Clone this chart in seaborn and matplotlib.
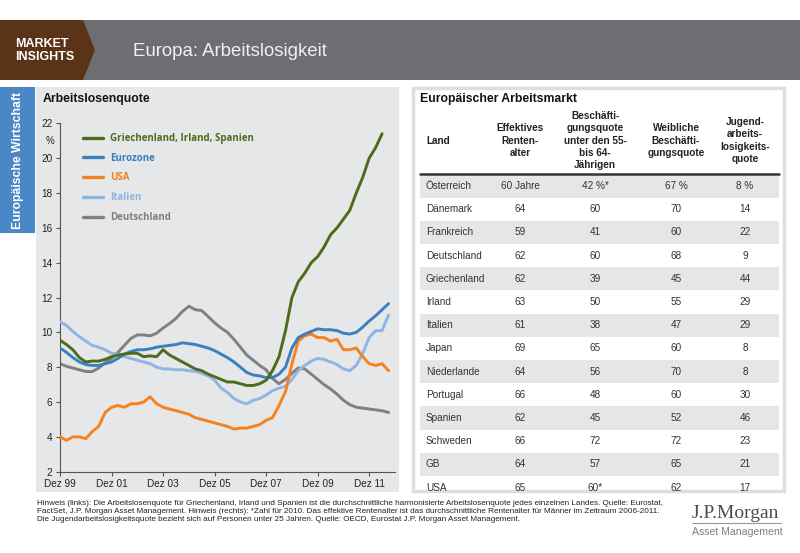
import matplotlib
matplotlib.use("Agg")
import matplotlib.pyplot as plt
from matplotlib.patches import Rectangle, Polygon
import pandas as pd
import seaborn as sns

# Arbeitslosenquote in %, Quartalswerte ab Dez 1999
quarters = pd.date_range("1999-12-01", periods=52, freq="3MS")

gr_ir_es = [9.55, 9.3, 9.0, 8.55, 8.3, 8.35, 8.35, 8.45, 8.6, 8.7, 8.75, 8.8, 8.8,
            8.6, 8.65, 8.6, 9.0, 8.7, 8.5, 8.3, 8.1, 7.9, 7.8, 7.6, 7.45, 7.3,
            7.15, 7.15, 7.05, 6.95, 6.95, 7.05, 7.25, 7.8, 8.6, 10.1, 12.0, 12.9,
            13.4, 14.0, 14.35, 14.9, 15.6, 16.0, 16.5, 17.0, 18.0, 18.9, 20.0,
            20.6, 21.4]
eurozone = [9.1, 8.85, 8.55, 8.3, 8.15, 8.1, 8.1, 8.2, 8.3, 8.5, 8.75, 8.9, 9.0,
            9.0, 9.05, 9.15, 9.2, 9.25, 9.3, 9.4, 9.35, 9.3, 9.2, 9.1, 8.95, 8.75,
            8.55, 8.3, 8.0, 7.7, 7.55, 7.5, 7.4, 7.4, 7.6, 8.0, 9.1, 9.7, 9.9,
            10.05, 10.2, 10.15, 10.15, 10.1, 9.95, 9.9, 10.0, 10.3, 10.65, 10.95,
            11.3, 11.65]
usa = [4.0, 3.8, 4.0, 4.0, 3.9, 4.3, 4.6, 5.4, 5.7, 5.8, 5.7, 5.9, 5.9, 6.0, 6.3,
       5.9, 5.7, 5.6, 5.5, 5.4, 5.3, 5.1, 5.0, 4.9, 4.8, 4.7, 4.6, 4.45, 4.5, 4.5,
       4.6, 4.7, 4.95, 5.1, 5.8, 6.6, 8.2, 9.5, 9.8, 9.9, 9.7, 9.7, 9.5, 9.6, 9.0,
       9.0, 9.1, 8.6, 8.2, 8.1, 8.2, 7.8]
italien = [10.6, 10.4, 10.05, 9.75, 9.5, 9.25, 9.15, 9.0, 8.8, 8.75, 8.6, 8.5, 8.4,
           8.3, 8.2, 8.0, 7.9, 7.9, 7.85, 7.85, 7.8, 7.75, 7.65, 7.5, 7.25, 6.8,
           6.55, 6.2, 6.0, 5.9, 6.1, 6.2, 6.4, 6.65, 6.8, 6.9, 7.3, 7.8, 8.1, 8.35,
           8.5, 8.45, 8.3, 8.15, 7.9, 7.8, 8.1, 8.8, 9.7, 10.1, 10.1, 11.0]
deutschland = [8.2, 8.05, 7.95, 7.85, 7.75, 7.75, 7.95, 8.25, 8.5, 8.85, 9.25, 9.65,
               9.85, 9.85, 9.8, 9.95, 10.25, 10.5, 10.8, 11.2, 11.5, 11.3, 11.25,
               10.9, 10.55, 10.25, 10.0, 9.6, 9.15, 8.7, 8.4, 8.1, 7.85, 7.35, 7.05,
               7.3, 7.65, 7.95, 7.9, 7.6, 7.3, 7.0, 6.75, 6.45, 6.1, 5.85, 5.7, 5.65,
               5.6, 5.55, 5.5, 5.4]

series_names = ["Griechenland, Irland, Spanien", "Eurozone", "USA", "Italien", "Deutschland"]
series_colors = ["#4e6b1b", "#3a7fc1", "#f5821f", "#8fb5e3", "#808080"]

x_tick_years = [1999, 2001, 2003, 2005, 2007, 2009, 2011]
x_tick_labels = ["Dez 99", "Dez 01", "Dez 03", "Dez 05", "Dez 07", "Dez 09", "Dez 11"]
y_ticks = [2, 4, 6, 8, 10, 12, 14, 16, 18, 20, 22]

# Tabelle rechts
table_header = ["Land", "Effektives\nRenten-\nalter", "Beschäfti-\ngungsquote\nunter den 55-\nbis 64-\nJährigen",
                "Weibliche\nBeschäfti-\ngungsquote", "Jugend-\narbeits-\nlosigkeits-\nquote"]
laender = ["Österreich", "Dänemark", "Frankreich", "Deutschland", "Griechenland", "Irland",
           "Italien", "Japan", "Niederlande", "Portugal", "Spanien", "Schweden", "GB", "USA"]
rentenalter = ["60 Jahre", "64", "59", "62", "62", "63", "61", "69", "64", "66", "62", "66", "64", "65"]
quote_55_64 = ["42 %*", "60", "41", "60", "39", "50", "38", "65", "56", "48", "45", "72", "57", "60*"]
weiblich = ["67 %", "70", "60", "68", "45", "55", "47", "60", "70", "60", "52", "72", "65", "62"]
jugend = ["8 %", "14", "22", "9", "44", "29", "29", "8", "8", "30", "46", "23", "21", "17"]

footer = ("Hinweis (links): Die Arbeitslosenquote für Griechenland, Irland und Spanien ist die durchschnittliche "
          "harmonisierte Arbeitslosenquote jedes einzelnen Landes. Quelle: Eurostat,\n"
          "FactSet, J.P. Morgan Asset Management. Hinweis (rechts): *Zahl für 2010. Das effektive Rentenalter ist "
          "das durchschnittliche Rentenalter für Männer im Zeitraum 2006-2011.\n"
          "Die Jugendarbeitslosigkeitsquote bezieht sich auf Personen unter 25 Jahren. Quelle: OECD, Eurostat "
          "J.P. Morgan Asset Management.")

sns.set_style("ticks")
plt.rcParams["font.family"] = ["Liberation Sans", "DejaVu Sans"]

W, H = 800, 553
fig = plt.figure(figsize=(8, 5.53), dpi=100)

# background layer in pixel coordinates
bg = fig.add_axes([0, 0, 1, 1])
bg.set_xlim(0, W)
bg.set_ylim(H, 0)
bg.axis("off")

bg.add_patch(Rectangle((0, 20), W, 60, color="#6d6e71", lw=0))
bg.add_patch(Polygon([(0, 20), (83, 20), (95, 50), (83, 80), (0, 80)], closed=True, color="#5b3318", lw=0))
bg.text(15, 44, "MARKET", color="white", fontsize=9, fontweight="bold", va="center")
bg.text(15, 57.5, "INSIGHTS", color="white", fontsize=9, fontweight="bold", va="center")
bg.text(133, 52, "Europa: Arbeitslosigkeit", color="#f0f0f0", fontsize=13.4, va="center")

bg.add_patch(Rectangle((0, 87), 35, 146, color="#4a87c7", lw=0))
bg.text(18, 160, "Europäische Wirtschaft", color="white", fontsize=8.8, fontweight="bold",
        rotation=90, ha="center", va="center")
bg.add_patch(Rectangle((36, 87), 363, 405, color="#e6e7e8", lw=0))
bg.text(43, 99, "Arbeitslosenquote", fontsize=8.8, fontweight="bold", va="center", color="#111")
bg.text(50, 141, "%", fontsize=7, ha="center", va="center", color="#222")

# table panel
bg.add_patch(Rectangle((413, 88), 371, 403, facecolor="white", edgecolor="#dedede", lw=2.5))
bg.text(420, 99, "Europäischer Arbeitsmarkt", fontsize=8.8, fontweight="bold", va="center", color="#111")
col_x = [426, 520, 595, 676, 745]
for i, head in enumerate(table_header):
    bg.text(col_x[i], 140.5, head, fontsize=7.2, fontweight="bold", color="#222",
            ha="left" if i == 0 else "center", va="center", linespacing=1.3)
bg.plot([420, 779], [174, 174], color="#333333", lw=1.8)

row_h = 23.2
for r, land in enumerate(laender):
    yc = 186 + r * row_h
    if r % 2 == 0:
        bg.add_patch(Rectangle((420, yc - row_h / 2), 359, row_h, color="#e6e6e6", lw=0))
    row = [land, rentenalter[r], quote_55_64[r], weiblich[r], jugend[r]]
    for i, cell in enumerate(row):
        bg.text(col_x[i], yc, cell, fontsize=7.2, color="#333333",
                ha="left" if i == 0 else "center", va="center")

# footer and logo
bg.text(37, 511.5, footer, fontsize=5.9, color="#222", va="center", linespacing=1.2)
bg.text(692, 514, "J.P.Morgan", fontsize=14, color="#4d4d4d", va="center",
        family=["Liberation Serif", "DejaVu Serif"])
bg.plot([692, 781], [523, 523], color="#9a9a9a", lw=0.8)
bg.text(692, 532, "Asset Management", fontsize=7.6, color="#808080", va="center")

# line chart
ax = fig.add_axes([60 / W, 1 - 471.7 / H, 335 / W, (471.7 - 123.3) / H])
ax.set_facecolor("none")

frames = []
for name, vals in zip(series_names, [gr_ir_es, eurozone, usa, italien, deutschland]):
    frames.append(pd.DataFrame({"Datum": quarters[:len(vals)], "Quote": vals, "Reihe": name}))
df = pd.concat(frames, ignore_index=True)

sns.lineplot(data=df, x="Datum", y="Quote", hue="Reihe", hue_order=series_names,
             palette=series_colors, linewidth=2.1, ax=ax)
for line, z in zip(ax.lines, [6, 5, 4, 3, 2]):
    line.set_zorder(z)

ax.set_xlim(pd.Timestamp("1999-12-01"), pd.Timestamp("2012-12-01"))
ax.set_ylim(2, 22)
ax.set_yticks(y_ticks)
ax.set_xticks([pd.Timestamp(f"{y}-12-01") for y in x_tick_years])
ax.set_xticklabels(x_tick_labels)
ax.set_xlabel("")
ax.set_ylabel("")
sns.despine(ax=ax)
for s in ["left", "bottom"]:
    ax.spines[s].set_color("#555555")
    ax.spines[s].set_linewidth(0.8)
ax.tick_params(direction="out", length=3, width=0.8, color="#555555",
               labelsize=7.2, labelcolor="#222222", pad=2.5)

handles, labels = ax.get_legend_handles_labels()
leg = ax.legend(handles, labels, loc="upper left", bbox_to_anchor=(83 / W, 1 - 133 / H),
                bbox_transform=fig.transFigure, frameon=False, borderpad=0, borderaxespad=0,
                handlelength=2.05, handletextpad=0.7, labelspacing=0.9,
                prop={"family": ["Open Sans", "DejaVu Sans"], "weight": "bold", "size": 7})
for txt, c in zip(leg.get_texts(), series_colors):
    txt.set_color(c)
for lh in leg.get_lines():
    lh.set_linewidth(2.4)

fig.savefig("out.png", dpi=100)
